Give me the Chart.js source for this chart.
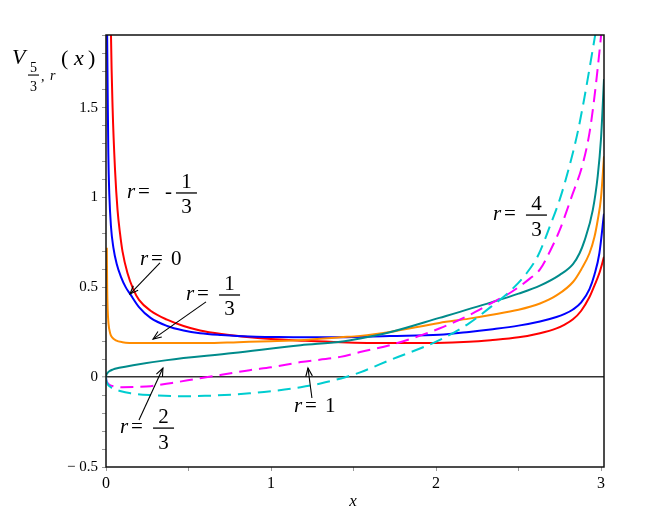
<!DOCTYPE html>
<html>
<head>
<meta charset="utf-8">
<script src="https://cdn.jsdelivr.net/npm/chart.js@4.4.1/dist/chart.umd.min.js"></script>
<style>
html,body{margin:0;padding:0;background:#fff;}
canvas{display:block;}
</style>
</head>
<body>
<canvas id="c" width="646" height="528"></canvas>
<script>
// ---- data ----
const redX = [0.02,0.03,0.04,0.055,0.07,0.085,0.1,0.13,0.165,0.2,0.27,0.37,0.47,0.57,0.7,0.87,1.0,1.2,1.42,1.7,2.0,2.2,2.33,2.5,2.63,2.73,2.78,2.83,2.88,2.93,2.96,2.99,3.018];
const redY = [2.8,1.92,1.5,1.15,0.93,0.8,0.7,0.58,0.49,0.43,0.37,0.32,0.285,0.26,0.24,0.222,0.212,0.203,0.195,0.19,0.191,0.197,0.206,0.222,0.245,0.272,0.293,0.322,0.37,0.446,0.51,0.58,0.67];

const blueX = [0.003,0.007,0.01,0.014,0.02,0.03,0.045,0.065,0.09,0.12,0.145,0.2,0.27,0.37,0.47,0.57,0.7,0.87,1.0,1.2,1.42,1.72,2.02,2.2,2.33,2.5,2.63,2.73,2.78,2.83,2.88,2.93,2.96,2.99,3.018];
const blueY = [2.3,1.9,1.6,1.25,1.02,0.84,0.72,0.63,0.56,0.5,0.465,0.39,0.33,0.285,0.26,0.245,0.235,0.226,0.224,0.222,0.222,0.229,0.236,0.252,0.266,0.287,0.31,0.335,0.352,0.377,0.416,0.49,0.57,0.69,0.91];

const orangeX = [0.005,0.007,0.01,0.015,0.025,0.036,0.06,0.1,0.2,0.4,0.6,0.8,1.0,1.2,1.42,1.54,1.72,2.02,2.2,2.33,2.5,2.63,2.73,2.83,2.88,2.93,2.96,2.98,3.0,3.018];
const orangeY = [0.72,0.5,0.38,0.3,0.245,0.223,0.205,0.195,0.19,0.19,0.19,0.195,0.2,0.207,0.222,0.23,0.252,0.302,0.326,0.346,0.375,0.41,0.455,0.53,0.6,0.69,0.78,0.875,1.0,1.23];

const tealX = [0,0.002,0.008,0.02,0.04,0.08,0.164,0.37,0.77,1.18,1.42,1.54,1.72,2.02,2.33,2.5,2.63,2.75,2.83,2.87,2.9,2.95,2.98,3.0,3.018];
const tealY = [0,0.012,0.022,0.033,0.042,0.052,0.067,0.095,0.134,0.178,0.197,0.215,0.25,0.33,0.415,0.465,0.51,0.57,0.63,0.69,0.76,0.93,1.12,1.33,1.66];

const magentaX = [0,0.002,0.008,0.02,0.05,0.1,0.2,0.27,0.4,0.57,0.7,0.87,1.0,1.18,1.42,1.54,1.72,2.02,2.2,2.33,2.45,2.57,2.63,2.69,2.75,2.82,2.89,2.93,2.96,3.0,3.02];
const magentaY = [0,-0.015,-0.03,-0.042,-0.052,-0.056,-0.054,-0.05,-0.032,-0.006,0.013,0.039,0.055,0.084,0.113,0.14,0.178,0.271,0.345,0.41,0.47,0.55,0.6,0.7,0.82,1.0,1.19,1.36,1.56,1.9,2.1];

const cyanX = [0,0.002,0.008,0.02,0.04,0.085,0.15,0.27,0.47,0.6,0.87,1.0,1.18,1.3,1.45,1.54,1.72,2.02,2.2,2.33,2.45,2.55,2.62,2.69,2.75,2.81,2.86,2.9,2.96,3.0];
const cyanY = [0,-0.018,-0.035,-0.05,-0.062,-0.077,-0.09,-0.1,-0.106,-0.104,-0.09,-0.078,-0.056,-0.035,0,0.027,0.095,0.206,0.3,0.39,0.48,0.58,0.68,0.84,0.99,1.18,1.37,1.56,1.88,2.1];

const xTickValues = [0,1,2,3];
const xTickLabels = ['0','1','2','3'];
const yTickValues = [-0.5,0,0.5,1,1.5];
const yTickLabels = ['\u2212 0.5','0','0.5','1','1.5'];

const seriesLabels = ['r = -1/3','r = 0','r = 1/3','r = 2/3','r = 1','r = 4/3'];

// ---- build datasets ----
function pts(xs, ys){ return xs.map((x,i)=>({x:x, y:ys[i]})); }
const SERIF = '"Liberation Serif","Times New Roman",serif';

const ds = [
  {label:seriesLabels[0], data:pts(redX,redY), borderColor:'#ff0000'},
  {label:seriesLabels[1], data:pts(blueX,blueY), borderColor:'#0000ff'},
  {label:seriesLabels[2], data:pts(orangeX,orangeY), borderColor:'#ff8c00'},
  {label:seriesLabels[3], data:pts(tealX,tealY), borderColor:'#008b8b'},
  {label:seriesLabels[4], data:pts(magentaX,magentaY), borderColor:'#ff00ff', borderDash:[13,7]},
  {label:seriesLabels[5], data:pts(cyanX,cyanY), borderColor:'#00cdd0', borderDash:[13,7]}
].map((d,i)=>Object.assign(d,{showLine:true, pointRadius:0, borderWidth:2, fill:false,
   cubicInterpolationMode:'monotone', order:6-i}));

// ---- annotations (in data coordinates) ----
const labels = [
  {x:0.127, y:0.998, sign:'-', num:'1', den:'3'},
  {x:0.206, y:0.625, val:'0'},
  {x:0.485, y:0.430, num:'1', den:'3'},
  {x:0.085, y:-0.311, num:'2', den:'3'},
  {x:1.139, y:-0.194, val:'1'},
  {x:2.345, y:0.875, num:'4', den:'3'}
];
const arrows = [
  {x1:0.327, y1:0.636, x2:0.145, y2:0.463},
  {x1:0.606, y1:0.419, x2:0.285, y2:0.212},
  {x1:0.200, y1:-0.238, x2:0.345, y2:0.051},
  {x1:1.248, y1:-0.116, x2:1.224, y2:0.051}
];

const annot = {
  id:'annot',
  afterDatasetsDraw(chart){
    const {ctx, chartArea:a, scales} = chart;
    const sx = scales.x, sy = scales.y;
    ctx.save();
    // frame
    ctx.strokeStyle = '#111'; ctx.lineWidth = 1.5;
    ctx.strokeRect(a.left, a.top, a.right-a.left, a.bottom-a.top);

    ctx.fillStyle = '#000';
    ctx.textBaseline = 'alphabetic';
    const FS = 21;
    labels.forEach(L=>{
      const x0 = sx.getPixelForValue(L.x), b = sy.getPixelForValue(L.y);
      ctx.textAlign = 'left';
      ctx.font = 'italic ' + FS + 'px ' + SERIF;
      ctx.fillText('r', x0, b);
      ctx.font = FS + 'px ' + SERIF;
      ctx.fillText('=', x0 + 11, b);
      if (L.val){
        ctx.fillText(L.val, x0 + 31, b);
      } else {
        let bx = x0 + 33;
        if (L.sign){ ctx.fillText(L.sign, x0 + 38, b); bx = x0 + 49; }
        const barY = b - 5;
        ctx.fillRect(bx, barY - 0.6, 21, 1.3);
        ctx.textAlign = 'center';
        ctx.fillText(L.num, bx + 10.5, barY - 5);
        ctx.fillText(L.den, bx + 10.5, barY + 20.5);
      }
    });

    // arrows
    ctx.strokeStyle = '#000'; ctx.lineWidth = 1.1;
    arrows.forEach(A=>{
      const x1 = sx.getPixelForValue(A.x1), y1 = sy.getPixelForValue(A.y1);
      const x2 = sx.getPixelForValue(A.x2), y2 = sy.getPixelForValue(A.y2);
      ctx.beginPath(); ctx.moveTo(x1,y1); ctx.lineTo(x2,y2); ctx.stroke();
      const ang = Math.atan2(y2-y1, x2-x1), h = 9, w = 0.38;
      ctx.beginPath();
      ctx.moveTo(x2 - h*Math.cos(ang-w), y2 - h*Math.sin(ang-w));
      ctx.lineTo(x2, y2);
      ctx.lineTo(x2 - h*Math.cos(ang+w), y2 - h*Math.sin(ang+w));
      ctx.stroke();
    });

    // y axis title  V_{5/3, r}(x)
    ctx.textAlign = 'left';
    ctx.font = 'italic 22px ' + SERIF;
    ctx.fillText('V', 12, 64);
    ctx.font = '14px ' + SERIF;
    ctx.textAlign = 'center';
    ctx.fillText('5', 33.5, 72);
    ctx.fillRect(28, 74.5, 11, 1.1);
    ctx.fillText('3', 33.5, 91);
    ctx.textAlign = 'left';
    ctx.fillText(',', 41, 81);
    ctx.font = 'italic 14px ' + SERIF;
    ctx.fillText('r', 50, 80);
    ctx.font = '22px ' + SERIF;
    ctx.fillText('(', 61, 65);
    ctx.font = 'italic 22px ' + SERIF;
    ctx.fillText('x', 74, 65);
    ctx.font = '22px ' + SERIF;
    ctx.fillText(')', 88, 65);

    // x axis title
    ctx.textAlign = 'center';
    ctx.font = 'italic 17px ' + SERIF;
    ctx.fillText('x', 353, 506);
    ctx.restore();
  }
};

function near(v, arr){ for (let i=0;i<arr.length;i++){ if (Math.abs(arr[i]-v) < 1e-6) return i; } return -1; }

new Chart(document.getElementById('c'), {
  type:'scatter',
  data:{datasets:ds},
  options:{
    responsive:false, animation:false,
    layout:{padding:{left:0, right:42, top:35, bottom:0}},
    plugins:{legend:{display:false}, tooltip:{enabled:false}},
    scales:{
      x:{
        type:'linear', min:0, max:3.018,
        afterFit(s){ s.height = 61; },
        afterBuildTicks(s){ const t=[]; for(let i=0;i<=6;i++) t.push({value:i*0.5}); s.ticks = t; },
        border:{display:false},
        grid:{drawOnChartArea:false, drawTicks:true, tickLength:4, tickColor:'#999', tickWidth:1},
        ticks:{autoSkip:false, maxRotation:0, padding:3, color:'#000',
          font:{family:SERIF, size:16},
          callback(v){ const i = near(v, xTickValues); return i>=0 ? xTickLabels[i] : ''; }}
      },
      y:{
        type:'linear', min:-0.5, max:1.905,
        afterFit(s){ s.width = 106; },
        afterBuildTicks(s){ const t=[]; for(let i=0;i<=24;i++) t.push({value:Math.round((-0.5+i*0.1)*10)/10}); s.ticks = t; },
        border:{display:false},
        grid:{drawOnChartArea:true, drawTicks:true, tickLength:4, tickColor:'#999', tickWidth:1,
          color(c){ return (c.tick && Math.abs(c.tick.value) < 1e-9) ? '#333' : 'rgba(0,0,0,0)'; },
          lineWidth(c){ return (c.tick && Math.abs(c.tick.value) < 1e-9) ? 1.6 : 1; }},
        ticks:{autoSkip:false, padding:4, color:'#000',
          font:{family:SERIF, size:15},
          callback(v){ const i = near(v, yTickValues); return i>=0 ? yTickLabels[i] : ''; }}
      }
    }
  },
  plugins:[annot]
});
</script>
</body>
</html>
